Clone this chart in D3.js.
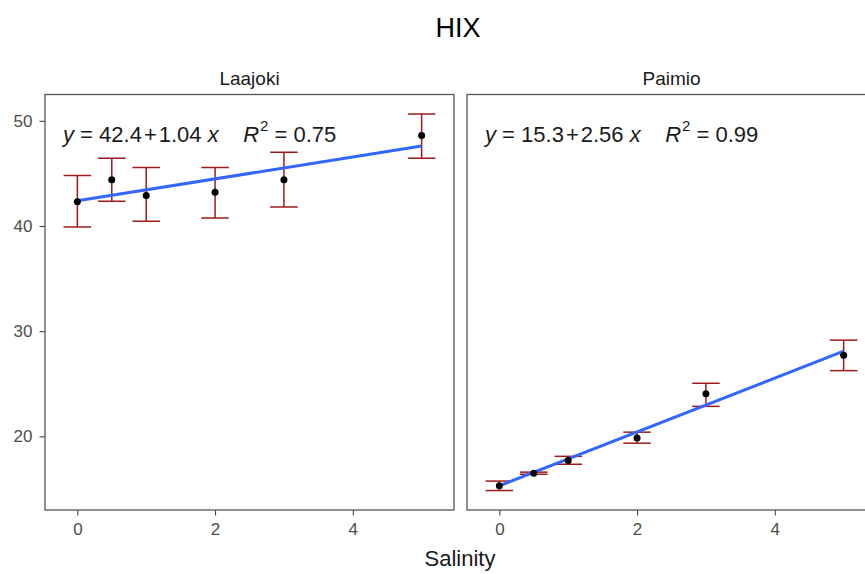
<!DOCTYPE html>
<html>
<head>
<meta charset="utf-8">
<script src="https://cdn.jsdelivr.net/npm/d3@7"></script>
<style>
  body { margin: 0; background: #fff; }
  svg { display: block; font-family: "Liberation Sans", Arial, sans-serif; }
  .eq { white-space: pre; }
</style>
</head>
<body>
<svg id="chart" width="865" height="574"></svg>
<script>
// salinity levels (x)
const salinity = [0, 0.5, 1, 2, 3, 5];

// Laajoki: mean HIX and error bar ends
const laajokiMean = [42.3, 44.4, 42.9, 43.2, 44.4, 48.6];
const laajokiLow  = [39.9, 42.35, 40.45, 40.75, 41.8, 46.45];
const laajokiHigh = [44.8, 46.45, 45.55, 45.55, 47.0, 50.65];

// Paimio
const paimioMean = [15.3, 16.5, 17.7, 19.85, 24.05, 27.7];
const paimioLow  = [14.85, 16.4, 17.35, 19.35, 22.85, 26.25];
const paimioHigh = [15.75, 16.6, 18.1, 20.4, 25.05, 29.15];

const sites = ['Laajoki', 'Paimio'];
const intercepts = [42.4, 15.3];
const slopes = [1.04, 2.56];
const r2Labels = ['0.75', '0.99'];

const xTicks = [0, 2, 4];
const yTicks = [20, 30, 40, 50];

const panels = [
  { name: sites[0], mean: laajokiMean, low: laajokiLow, high: laajokiHigh, b0: intercepts[0], b1: slopes[0], r2: r2Labels[0], x0: 45 },
  { name: sites[1], mean: paimioMean, low: paimioLow, high: paimioHigh, b0: intercepts[1], b1: slopes[1], r2: r2Labels[1], x0: 467 }
];

const panelW = 409, panelTop = 94.5, panelBottom = 510;
const svg = d3.select('#chart');

const y = d3.scaleLinear().domain([13.0, 52.5]).range([panelBottom, panelTop]);

svg.append('text')
  .attr('x', 458).attr('y', 37)
  .attr('text-anchor', 'middle')
  .attr('font-size', 27)
  .attr('fill', '#000')
  .text('HIX');

panels.forEach((p, i) => {
  const x = d3.scaleLinear().domain([-0.47, 5.47]).range([p.x0, p.x0 + panelW]);
  const g = svg.append('g');

  // strip label
  g.append('text')
    .attr('x', p.x0 + panelW / 2).attr('y', 85)
    .attr('text-anchor', 'middle')
    .attr('font-size', 19)
    .attr('fill', '#1a1a1a')
    .text(p.name);

  // x axis
  const xa = g.append('g')
    .attr('transform', `translate(0,${panelBottom})`)
    .call(d3.axisBottom(x).tickValues(xTicks).tickFormat(d3.format('d')).tickSize(5.5).tickPadding(7.5));
  xa.select('.domain').remove();
  xa.selectAll('line').attr('stroke', '#333');
  xa.selectAll('text').attr('font-size', 17).attr('fill', '#4d4d4d');
  xa.attr('font-family', null);

  if (i === 0) {
    const ya = g.append('g')
      .attr('transform', `translate(${p.x0},0)`)
      .call(d3.axisLeft(y).tickValues(yTicks).tickSize(5.5).tickPadding(7));
    ya.select('.domain').remove();
    ya.selectAll('line').attr('stroke', '#333');
    ya.selectAll('text').attr('font-size', 17).attr('fill', '#4d4d4d');
    ya.attr('font-family', null);
  }

  const clip = 'clip' + i;
  svg.append('clipPath').attr('id', clip)
    .append('rect').attr('x', p.x0).attr('y', panelTop).attr('width', panelW).attr('height', panelBottom - panelTop);
  const inner = g.append('g').attr('clip-path', `url(#${clip})`);

  const rows = salinity.map((s, k) => ({ s, m: p.mean[k], lo: p.low[k], hi: p.high[k] }));
  const cap = x(0.2) - x(0);

  // error bars
  const eb = inner.selectAll('g.eb').data(rows).enter().append('g')
    .attr('stroke', '#9e1a1a').attr('stroke-width', 1.5).attr('fill', 'none');
  eb.append('line').attr('x1', d => x(d.s)).attr('x2', d => x(d.s)).attr('y1', d => y(d.lo)).attr('y2', d => y(d.hi));
  eb.append('line').attr('x1', d => x(d.s) - cap).attr('x2', d => x(d.s) + cap).attr('y1', d => y(d.lo)).attr('y2', d => y(d.lo));
  eb.append('line').attr('x1', d => x(d.s) - cap).attr('x2', d => x(d.s) + cap).attr('y1', d => y(d.hi)).attr('y2', d => y(d.hi));

  // regression line
  const xs = d3.extent(salinity);
  inner.append('line')
    .attr('x1', x(xs[0])).attr('y1', y(p.b0 + p.b1 * xs[0]))
    .attr('x2', x(xs[1])).attr('y2', y(p.b0 + p.b1 * xs[1]))
    .attr('stroke', '#3366ff').attr('stroke-width', 3);

  // points
  inner.selectAll('circle').data(rows).enter().append('circle')
    .attr('cx', d => x(d.s)).attr('cy', d => y(d.m)).attr('r', 3.5).attr('fill', '#000');

  // equation
  const t = g.append('text').attr('class', 'eq')
    .attr('x', p.x0 + 18).attr('y', 142)
    .attr('font-size', 22).attr('fill', '#1a1a1a');
  t.append('tspan').attr('font-style', 'italic').text('y');
  t.append('tspan').text(' = ' + p.b0.toFixed(1));
  t.append('tspan').attr('dx', 2).text('+');
  t.append('tspan').attr('dx', 2).text(p.b1.toFixed(2) + ' ');
  t.append('tspan').attr('font-style', 'italic').text('x');
  t.append('tspan').text('    ');
  t.append('tspan').attr('font-style', 'italic').text('R');
  t.append('tspan').attr('font-size', 15).attr('dy', -11).attr('dx', 1).text('2');
  t.append('tspan').attr('dy', 11).text(' = ' + p.r2);

  // panel border
  g.append('rect')
    .attr('x', p.x0).attr('y', panelTop).attr('width', panelW).attr('height', panelBottom - panelTop)
    .attr('fill', 'none').attr('stroke', '#555').attr('stroke-width', 1.3);
});

svg.append('text')
  .attr('x', 460).attr('y', 566)
  .attr('text-anchor', 'middle')
  .attr('font-size', 22)
  .attr('fill', '#1a1a1a')
  .text('Salinity');
</script>
</body>
</html>
